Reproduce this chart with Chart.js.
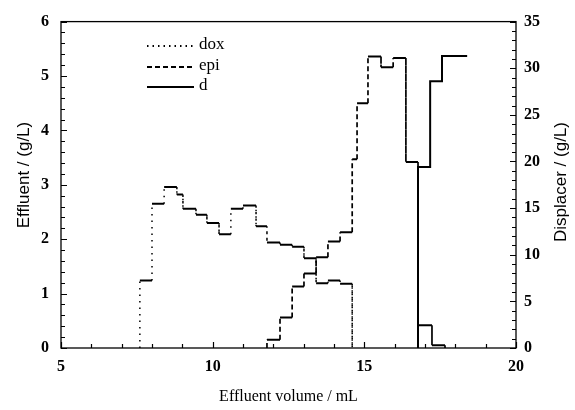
<!DOCTYPE html>
<html>
<head>
<meta charset="utf-8">
<script src="https://cdn.jsdelivr.net/npm/chart.js@4.4.1/dist/chart.umd.min.js"></script>
<style>
html,body{margin:0;padding:0;background:#fff;}
#wrap{width:575px;height:410px;position:relative;}
</style>
</head>
<body>
<div id="wrap"><canvas id="c" width="575" height="410"></canvas></div>
<script>
// Fraction boundaries (mL) and concentrations
const doxX = [7.6, 8.0, 8.4, 8.82, 9.02, 9.45, 9.81, 10.21, 10.6, 11.0, 11.43, 11.79, 12.22, 12.62, 13.01, 13.41, 13.8, 14.2, 14.6];
const doxY = [1.24, 2.65, 2.96, 2.82, 2.56, 2.45, 2.3, 2.09, 2.56, 2.62, 2.24, 1.94, 1.9, 1.86, 1.65, 1.19, 1.24, 1.18];
const epiX = [11.79, 12.22, 12.62, 13.01, 13.41, 13.8, 14.2, 14.6, 14.76, 15.12, 15.55, 15.95, 16.37, 16.77, 17.23, 17.66];
const epiY = [0.15, 0.56, 1.13, 1.37, 1.67, 1.96, 2.13, 3.47, 4.5, 5.36, 5.16, 5.33, 3.42, 0.42, 0.05];
const dX = [16.77, 17.17, 17.56, 18.39];
const dY = [19.4, 28.6, 31.3];
const xTicks = [5, 10, 15, 20];
const yTicks = [0, 1, 2, 3, 4, 5, 6];
const y2Ticks = [0, 5, 10, 15, 20, 25, 30, 35];
const labels = ['dox', 'epi', 'd'];

function steps(xs, ys, dropEnd) {
  const pts = [{x: xs[0], y: 0}];
  for (let i = 0; i < ys.length; i++) {
    pts.push({x: xs[i], y: ys[i]});
    pts.push({x: xs[i + 1], y: ys[i]});
  }
  if (dropEnd) pts.push({x: xs[xs.length - 1], y: 0});
  return pts;
}
const isVert = ctx => ctx.p0.parsed.x === ctx.p1.parsed.x;

const serif = 'Liberation Serif';
const sans = 'Liberation Sans';

const decor = {
  id: 'decor',
  afterDraw(chart) {
    const {ctx, chartArea: a, scales} = chart;
    ctx.save();
    ctx.strokeStyle = '#000';
    ctx.lineWidth = 1.3;
    ctx.strokeRect(a.left, a.top, a.right - a.left, a.bottom - a.top);
    ctx.lineWidth = 1.2;
    ctx.beginPath();
    for (let i = 0; i <= 30; i++) {
      const p = Math.round(scales.y.getPixelForValue(i * 0.2)) + 0.5;
      const L = (i % 5 === 0) ? 6 : 4;
      ctx.moveTo(a.left, p); ctx.lineTo(a.left + L, p);
    }
    for (let i = 0; i <= 35; i++) {
      const p = Math.round(scales.y2.getPixelForValue(i)) + 0.5;
      const L = (i % 5 === 0) ? 6 : 4;
      ctx.moveTo(a.right, p); ctx.lineTo(a.right - L, p);
    }
    for (let i = 5; i <= 20; i++) {
      const p = Math.round(scales.x.getPixelForValue(i)) + 0.5;
      const L = (i % 5 === 0) ? 6 : 4;
      ctx.moveTo(p, a.bottom); ctx.lineTo(p, a.bottom - L);
    }
    ctx.stroke();

    // legend
    const ds = chart.data.datasets;
    const ly = [46, 67, 87];
    for (let k = 0; k < 3; k++) {
      ctx.beginPath();
      ctx.setLineDash(k === 0 ? [1.5, 4] : (k === 1 ? [5, 3] : []));
      ctx.lineWidth = 2;
      ctx.moveTo(147, ly[k]); ctx.lineTo(194, ly[k]);
      ctx.stroke();
      ctx.setLineDash([]);
      ctx.fillStyle = '#000';
      ctx.font = '17px "' + serif + '"';
      ctx.textBaseline = 'middle';
      ctx.textAlign = 'left';
      ctx.fillText(ds[k].label, 199, ly[k] - 1);
    }

    // axis titles
    ctx.font = '16px "' + serif + '"';
    ctx.textAlign = 'center';
    ctx.textBaseline = 'middle';
    ctx.fillText('Effluent volume / mL', (a.left + a.right) / 2, 397);
    ctx.font = '17px "' + sans + '"';
    ctx.save();
    ctx.translate(24, 175);
    ctx.rotate(-Math.PI / 2);
    ctx.fillText('Effluent / (g/L)', 0, 0);
    ctx.restore();
    ctx.save();
    ctx.translate(561, 182);
    ctx.rotate(-Math.PI / 2);
    ctx.fillText('Displacer / (g/L)', 0, 0);
    ctx.restore();
    ctx.restore();
  }
};

const tickFont = {family: serif, weight: 'bold', size: 16};

new Chart(document.getElementById('c'), {
  type: 'line',
  data: {
    datasets: [
      {
        label: labels[0], data: steps(doxX, doxY, true), yAxisID: 'y',
        borderColor: '#000', borderWidth: 2, pointRadius: 0, fill: false, tension: 0,
        segment: {borderDash: ctx => isVert(ctx) ? [1.5, 5] : [], borderWidth: ctx => isVert(ctx) ? 1.5 : 2}
      },
      {
        label: labels[1], data: steps(epiX, epiY, true), yAxisID: 'y',
        borderColor: '#000', borderWidth: 2, pointRadius: 0, fill: false, tension: 0,
        segment: {borderDash: ctx => isVert(ctx) ? [5, 3] : [], borderWidth: ctx => isVert(ctx) ? 1.7 : 2}
      },
      {
        label: labels[2], data: steps(dX, dY, false), yAxisID: 'y2',
        borderColor: '#000', borderWidth: 2, pointRadius: 0, fill: false, tension: 0
      }
    ]
  },
  options: {
    responsive: false,
    animation: false,
    events: [],
    layout: {padding: {top: 18, left: 0, right: 0, bottom: 0}},
    plugins: {legend: {display: false}, tooltip: {enabled: false}},
    scales: {
      x: {
        type: 'linear', min: 5, max: 20,
        afterBuildTicks: s => { s.ticks = xTicks.map(v => ({value: v})); },
        afterFit: s => { s.height = 62; },
        grid: {display: false, drawTicks: false}, border: {display: false},
        ticks: {font: tickFont, color: '#000', padding: 9, maxRotation: 0}
      },
      y: {
        type: 'linear', position: 'left', min: 0, max: 6,
        afterBuildTicks: s => { s.ticks = yTicks.map(v => ({value: v})); },
        afterFit: s => { s.width = 61; },
        grid: {display: false, drawTicks: false}, border: {display: false},
        ticks: {font: tickFont, color: '#000', padding: 12}
      },
      y2: {
        type: 'linear', position: 'right', min: 0, max: 35,
        afterBuildTicks: s => { s.ticks = y2Ticks.map(v => ({value: v})); },
        afterFit: s => { s.width = 59; },
        grid: {display: false, drawTicks: false}, border: {display: false},
        ticks: {font: tickFont, color: '#000', padding: 8}
      }
    }
  },
  plugins: [decor]
});
</script>
</body>
</html>
